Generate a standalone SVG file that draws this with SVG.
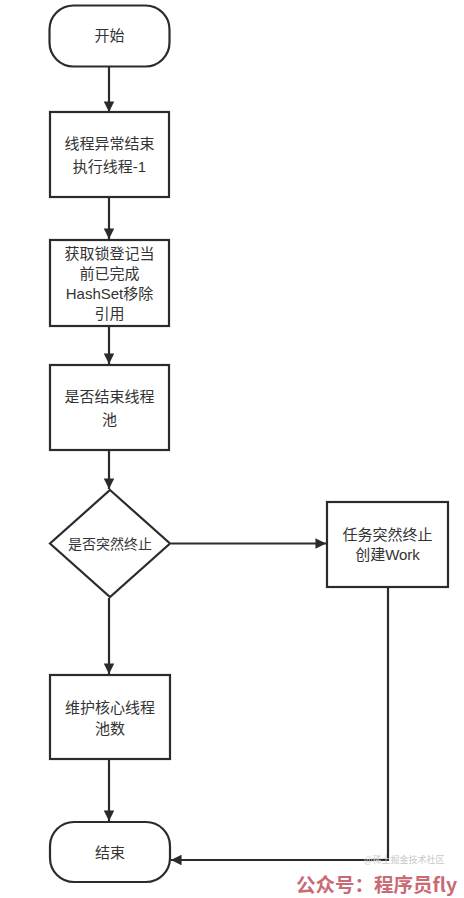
<svg xmlns="http://www.w3.org/2000/svg" width="464" height="898" viewBox="0 0 464 898">
<style>
.n{fill:#fff;stroke:#2b2b2b;stroke-width:2.2}
.t{font-family:"Liberation Sans","Noto Sans CJK SC",sans-serif;font-size:15px;fill:#333;text-anchor:middle}
.c{fill:none;stroke:#2b2b2b;stroke-width:2.2}
</style>
<defs>
<marker id="a" viewBox="0 0 10 10" refX="10" refY="5" markerWidth="5.5" markerHeight="4.8" markerUnits="strokeWidth" orient="auto"><path d="M0,0L10,5L0,10z" fill="#2b2b2b"/></marker>
</defs>
<rect width="464" height="898" fill="#fff"/>
<g id="connectors">
<path class="c" d="M109,67V112" marker-end="url(#a)"/>
<path class="c" d="M109,198V239" marker-end="url(#a)"/>
<path class="c" d="M109,327V364" marker-end="url(#a)"/>
<path class="c" d="M109,451V489" marker-end="url(#a)"/>
<path class="c" d="M171,543.5H326" marker-end="url(#a)"/>
<path class="c" d="M109,598V674" marker-end="url(#a)"/>
<path class="c" d="M109,760V821" marker-end="url(#a)"/>
<path class="c" d="M388,588V860H171" marker-end="url(#a)"/>
</g>
<g id="start"><rect class="n" x="49.5" y="5.5" width="120" height="61" rx="24"/><text class="t" x="109.5" y="41">开始</text></g>
<g id="n1"><rect class="n" x="50" y="112" width="119" height="85"/><text class="t" x="109.5" y="149">线程异常结束</text><text class="t" x="109.5" y="172">执行线程-1</text></g>
<g id="n2"><rect class="n" x="50" y="240" width="119" height="86"/><text class="t" x="109.5" y="259">获取锁登记当</text><text class="t" x="109.5" y="279">前已完成</text><text class="t" x="109.5" y="299">HashSet移除</text><text class="t" x="109.5" y="319">引用</text></g>
<g id="n3"><rect class="n" x="50" y="365" width="119" height="85"/><text class="t" x="109.5" y="402">是否结束线程</text><text class="t" x="109.5" y="425">池</text></g>
<g id="d"><path class="n" d="M110,490L170,543.5L110,597L50,543.5Z"/><text class="t" x="110" y="549" style="font-size:14px">是否突然终止</text></g>
<g id="n4"><rect class="n" x="327" y="502" width="121" height="85"/><text class="t" x="387.5" y="540">任务突然终止</text><text class="t" x="387.5" y="560">创建Work</text></g>
<g id="n5"><rect class="n" x="50" y="675" width="120" height="84"/><text class="t" x="110" y="713">维护核心线程</text><text class="t" x="110" y="734">池数</text></g>
<g id="end"><rect class="n" x="50" y="822" width="120" height="60" rx="24"/><text class="t" x="110" y="858">结束</text></g>
<g id="wm">
<text x="364" y="863" style="font-family:'Noto Sans CJK SC',sans-serif;font-size:9px;fill:#c8c8c8">@稀土掘金技术社区</text>
<text x="296" y="892" style="font-family:'Noto Sans CJK SC',sans-serif;font-size:19.5px;font-weight:bold;fill:#c96a75">公众号：程序员fly</text>
</g>
</svg>
